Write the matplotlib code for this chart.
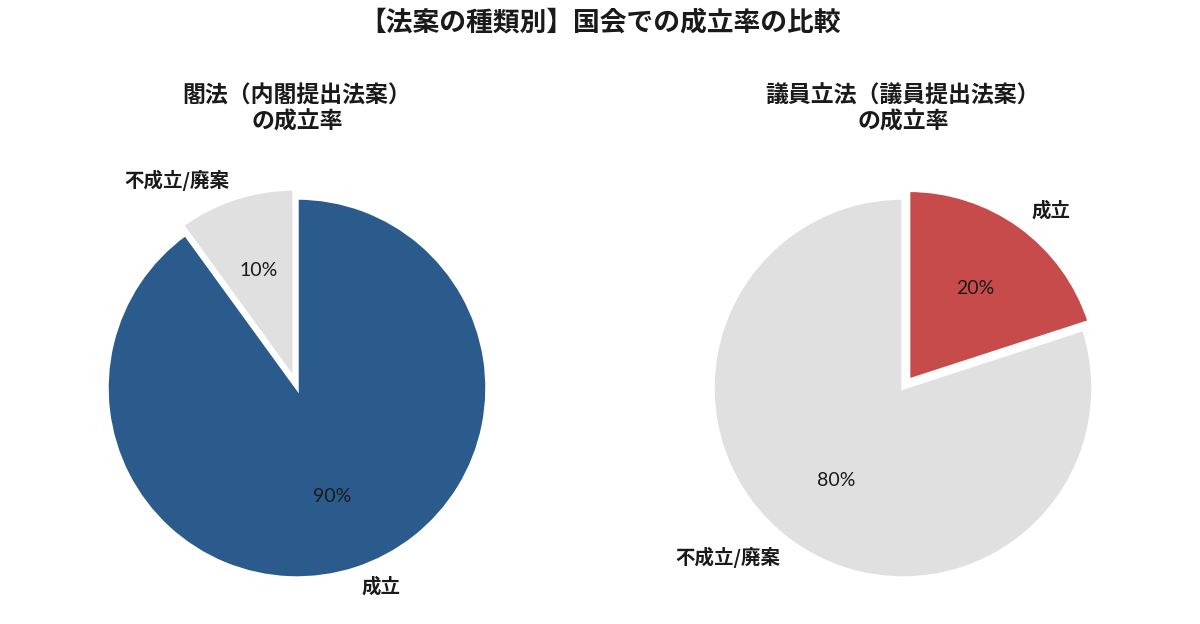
import matplotlib
matplotlib.use("Agg")
import matplotlib.pyplot as plt

plt.rcParams['font.family'] = ['Noto Sans CJK JP', 'DejaVu Sans']

title = "【法案の種類別】国会での成立率の比較"
left_title = "閣法（内閣提出法案）\nの成立率"
right_title = "議員立法（議員提出法案）\nの成立率"

left_labels = ["成立", "不成立/廃案"]
left_values = [90, 10]
right_labels = ["成立", "不成立/廃案"]
right_values = [20, 80]

blue = "#2b5b8c"
red = "#c84b4b"
gray = "#e0e0e0"
txt = "#1a1a1a"

fig = plt.figure(figsize=(12, 6.24), dpi=100)
fig.patch.set_facecolor("white")

W, H = 1200, 624
R = 190
half = 1.25 * R

def make_ax(cx, cy):
    return fig.add_axes([(cx - half) / W, (H - cy - half) / H, 2 * half / W, 2 * half / H])

def draw(ax, values, labels, colors, explode):
    wedges, texts, autotexts = ax.pie(
        values, labels=labels, colors=colors, explode=explode,
        startangle=90, counterclock=False, autopct="%d%%",
        pctdistance=0.6, labeldistance=1.1,
        wedgeprops=dict(edgecolor="white", linewidth=2.5),
        textprops=dict(color=txt))
    for t in texts:
        t.set_fontsize(14)
        t.set_fontweight("bold")
    for a in autotexts:
        a.set_fontsize(14)
        a.set_family(["Lato", "DejaVu Sans"])
        a.set_fontweight("normal")
        a.set_color(txt)
    ax.set_xlim(-1.25, 1.25)
    ax.set_ylim(-1.25, 1.25)
    ax.set_aspect("equal")

axL = make_ax(297, 388)
draw(axL, left_values, left_labels, [blue, gray], [0, 0.05])
axR = make_ax(903, 388)
draw(axR, right_values, right_labels, [red, gray], [0.05, 0])

fig.text(0.5, 1 - 22 / H, title, ha="center", va="center",
         fontsize=19.3, fontweight="bold", color=txt)
fig.text(297 / W, 1 - 109 / H, left_title, ha="center", va="center",
         fontsize=16.5, fontweight="bold", color=txt, linespacing=1.2)
fig.text(903 / W, 1 - 109 / H, right_title, ha="center", va="center",
         fontsize=16.5, fontweight="bold", color=txt, linespacing=1.2)

fig.savefig("out.png", dpi=100, facecolor="white")
